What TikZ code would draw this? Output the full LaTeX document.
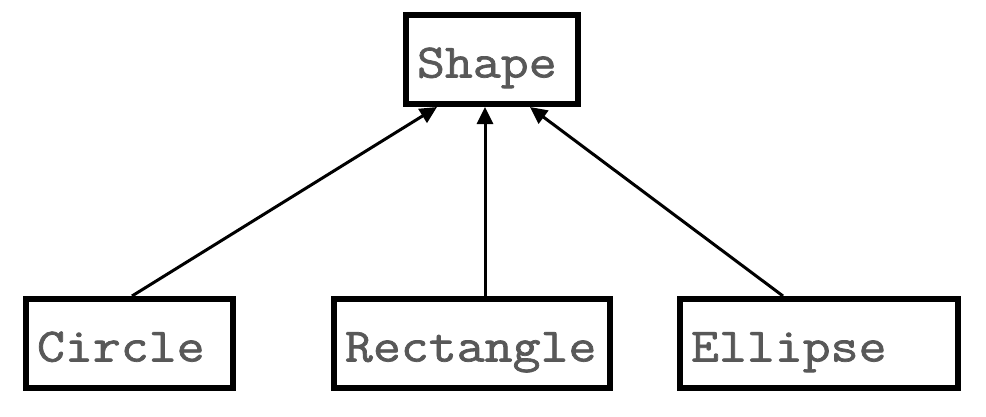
\documentclass[tikz,border=0pt]{standalone}
\usepackage{fontspec}
\newfontfamily\classfont{Latin Modern Mono}[FakeStretch=1.13, FakeBold=1.5]
\usetikzlibrary{arrows.meta, positioning}
\definecolor{labelgray}{RGB}{88,88,88}

\begin{document}
\begin{tikzpicture}[x=1pt, y=-1pt,
        classbox/.style={rectangle, draw, line width=6pt, minimum height=89pt,
            inner xsep=11pt, inner ysep=0pt, align=left, text height=36pt, text depth=0pt,
            font=\classfont\fontsize{48}{48}\selectfont, text=labelgray},
        inherit/.style={line width=3pt, -{Triangle[length=17pt, width=16pt]}}]
            \useasboundingbox (0,0) rectangle (986,416);

            % Nodes
            \node[classbox, text width=150pt] (shape) at (492,59.5) {Shape};
            \node[classbox, text width=185pt] (circle) at (129.5,343.5) {Circle};
            \node[classbox, text width=254pt] (rectangle) at (472,343.5) {Rectangle};
            \node[classbox, text width=256pt] (ellipse) at (819,343.5) {Ellipse};

            % Edges
            \draw[inherit] ([xshift=2.5pt]circle.north) -- ([xshift=-55pt]shape.south);
            \draw[inherit] ([xshift=13pt]rectangle.north) -- ([xshift=-7pt]shape.south);
            \draw[inherit] ([xshift=-36pt]ellipse.north) -- ([xshift=38pt]shape.south);
        \end{tikzpicture}
\end{document}
